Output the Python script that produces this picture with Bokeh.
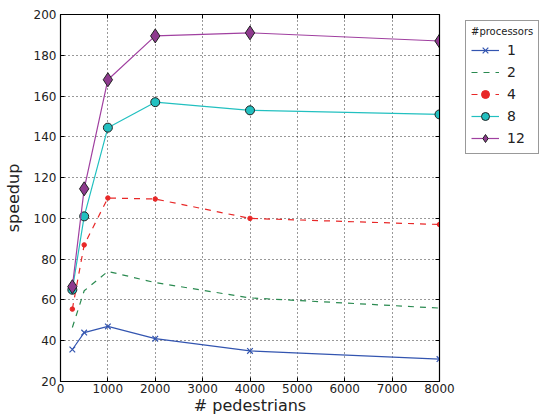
from bokeh.plotting import figure
from bokeh.layouts import row
from bokeh.models import Range1d, LinearAxis, Legend, LegendItem, SingleIntervalTicker, CustomJSTickFormatter
from bokeh.embed import file_html
from bokeh.resources import INLINE

pedestrians = [250, 500, 1000, 2000, 4000, 8000]
speedup_1 = [35.7, 44, 47, 41, 35, 31]
speedup_2 = [46.5, 64.5, 74, 68.5, 61, 56]
speedup_4 = [55.5, 87, 110, 109.5, 100, 97]
speedup_8 = [65, 101, 144.5, 157, 153, 151]
speedup_12 = [66.5, 114.5, 168, 189.5, 191, 187]
labels = ["1", "2", "4", "8", "12"]

FONT = "DejaVu Sans"

p = figure(frame_width=379, frame_height=367, output_backend="svg", toolbar_location=None,
           x_range=Range1d(0, 8000), y_range=Range1d(20, 200),
           min_border_left=53, min_border_top=14, min_border_right=16, min_border_bottom=0,
           background_fill_color="white", border_fill_color="white")

p.outline_line_color = "black"
p.outline_line_width = 1.2

for ax in p.xaxis + p.yaxis:
    ax.major_label_text_font = FONT
    ax.major_label_text_font_size = "12px"
    ax.major_label_text_color = "#222222"
    ax.axis_label_text_font = FONT
    ax.axis_label_text_font_size = "16px"
    ax.axis_label_text_font_style = "normal"
    ax.axis_label_text_color = "#222222"
    ax.major_tick_in = 4
    ax.major_tick_out = 0
    ax.minor_tick_in = 0
    ax.minor_tick_out = 0
    ax.axis_line_color = "black"
    ax.major_tick_line_color = "black"

p.xaxis.ticker = SingleIntervalTicker(interval=1000)
p.yaxis.ticker = SingleIntervalTicker(interval=20)
p.xaxis.axis_label = "# pedestrians"
p.yaxis.axis_label = "speedup"
p.xaxis.major_label_standoff = 2
p.yaxis.major_label_standoff = 4
p.xaxis.axis_label_standoff = 0
p.yaxis.axis_label_standoff = 8

for loc, interval in (("right", 20), ("above", 1000)):
    ax = LinearAxis(ticker=SingleIntervalTicker(interval=interval),
                    formatter=CustomJSTickFormatter(code="return ''"))
    ax.major_label_standoff = 0
    ax.major_tick_in = 4
    ax.major_tick_out = 0
    ax.minor_tick_in = 0
    ax.minor_tick_out = 0
    ax.axis_line_color = "black"
    p.add_layout(ax, loc)

p.grid.grid_line_color = "black"
p.grid.grid_line_dash = "1 3"
p.grid.grid_line_alpha = 0.8
p.grid.grid_line_width = 1

c1, c2, c4, c8, c12 = "#3355b0", "#2a8a50", "#e82828", "#22c0c0", "#a040a0"


def draw(fig):
    l1 = fig.line(pedestrians, speedup_1, line_color=c1, line_width=1.2)
    m1 = fig.scatter(pedestrians, speedup_1, marker="x", size=8, line_color=c1, line_width=1.2)
    l2 = fig.line(pedestrians, speedup_2, line_color=c2, line_width=1.2, line_dash="6 6")
    l4 = fig.line(pedestrians, speedup_4, line_color=c4, line_width=1.2, line_dash="6 6")
    m4 = fig.scatter(pedestrians, speedup_4, marker="circle", size=4.5, fill_color=c4, line_color=c4)
    l8 = fig.line(pedestrians, speedup_8, line_color=c8, line_width=1.2)
    m8 = fig.scatter(pedestrians, speedup_8, marker="circle", size=9, fill_color=c8, line_color="#222222")
    l12 = fig.line(pedestrians, speedup_12, line_color=c12, line_width=1.2)
    m12 = fig.scatter(pedestrians, speedup_12, marker="diamond", size=14, fill_color="#8e3a8e", line_color="#222222")
    return [[l1, m1], [l2], [l4, m4], [l8, m8], [l12, m12]]


draw(p)

# legend panel: a second, axis-less figure whose copies of the glyphs lie outside its ranges
pl = figure(width=90, height=200, output_backend="svg", toolbar_location=None,
            x_range=Range1d(-20, -10), y_range=Range1d(-20, -10),
            x_axis_type=None, y_axis_type=None,
            min_border_left=4, min_border_right=0, min_border_top=14, min_border_bottom=0,
            background_fill_color="white", border_fill_color="white")
pl.outline_line_color = None
groups = draw(pl)

legend = Legend(items=[LegendItem(label=lab, renderers=g) for lab, g in zip(labels, groups)])
legend.title = "#processors"
legend.title_text_font = FONT
legend.title_text_font_size = "10px"
legend.title_text_font_style = "normal"
legend.title_text_color = "#222222"
legend.title_standoff = 3
legend.label_text_font = FONT
legend.label_text_font_size = "14px"
legend.label_text_color = "#222222"
legend.label_standoff = 8
legend.glyph_width = 28
legend.glyph_height = 20
legend.label_height = 20
legend.spacing = 2
legend.padding = 5
legend.border_line_color = "#333333"
legend.border_line_width = 1
legend.location = "top_left"
legend.margin = 6
legend.background_fill_color = "white"
pl.add_layout(legend, "center")

layout = row(p, pl)
open("out.html", "w").write(file_html(layout, INLINE))
